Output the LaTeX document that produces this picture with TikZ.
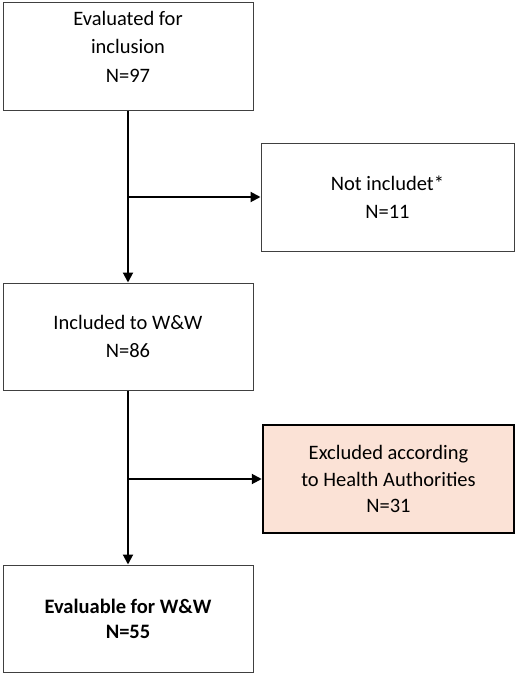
\documentclass[tikz,border=0pt]{standalone}
\usepackage{fontspec}
\setmainfont{Carlito}
\usetikzlibrary{arrows.meta,positioning}
\definecolor{peach}{HTML}{FBE2D6}

\begin{document}
\begin{tikzpicture}[x=1pt,y=-1pt,>={Triangle[length=10pt,width=10pt]},
 font=\fontsize{20.5}{28.5}\selectfont,
 box/.style={draw=black!75,line width=1pt,align=center,minimum height=108pt,inner sep=0pt},
 flow/.style={line width=2pt,->}]
\useasboundingbox (0,0) rectangle (516,673);
\node[box,minimum width=250pt,text depth=19pt] (eval) at (128,56) {Evaluated for\\inclusion\\N=97};
\node[box,minimum width=253pt] (notinc) at (387.5,197) {Not includet*\\N=11};
\node[box,minimum width=250pt,minimum height=107pt] (incl) at (128,336.5) {Included to W\&W\\N=86};
\node[box,draw=black,line width=2.5pt,fill=peach,minimum width=251pt,font=\fontsize{20.5}{26.5}\selectfont] (excl) at (388.5,479) {Excluded according\\to Health Authorities\\N=31};
\node[box,minimum width=250pt,minimum height=107pt,font=\fontsize{20.5}{25}\selectfont\bfseries] (evalb) at (128,618.5) {Evaluable for W\&W\\N=55};
\coordinate (j1) at (eval.south |- notinc.west);
\coordinate (j2) at (incl.south |- excl.west);
\draw[flow] (eval.south)--(incl.north);
\draw[flow] (j1)--(notinc.west);
\draw[flow] (incl.south)--(evalb.north);
\draw[flow] (j2)--(excl.west);
\end{tikzpicture}
\end{document}
